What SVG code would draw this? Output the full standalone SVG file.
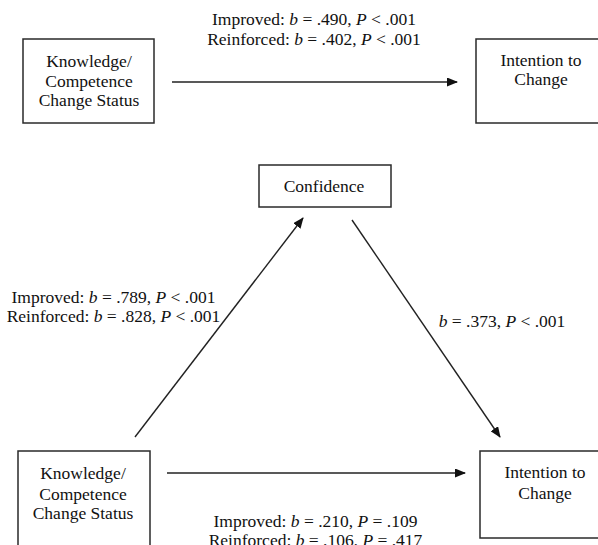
<svg xmlns="http://www.w3.org/2000/svg" width="598" height="545" viewBox="0 0 598 545">
<defs>
<style>
.box{fill:#fff;stroke:#2a2a2a;stroke-width:1.5}
.t{font-family:'Liberation Serif','Times New Roman',serif;font-size:17.5px;fill:#111;text-anchor:middle}
.i{font-style:italic}
.edge{stroke:#222;stroke-width:1.4;fill:none;marker-end:url(#ah)}
</style>
<marker id="ah" markerUnits="userSpaceOnUse" markerWidth="11" markerHeight="9" refX="10" refY="4.5" orient="auto">
<path d="M0,0 L11,4.5 L0,9 z" fill="#111"/>
</marker>
</defs>
<rect width="598" height="545" fill="#fff"/>

<g id="kc-top">
<rect class="box" x="23" y="39" width="131" height="84"/>
<text class="t" x="89" y="67">Knowledge/</text>
<text class="t" x="89" y="87">Competence</text>
<text class="t" x="89" y="106">Change Status</text>
</g>
<g id="ic-top">
<rect class="box" x="476" y="39" width="130" height="84"/>
<text class="t" x="541" y="66">Intention to</text>
<text class="t" x="541" y="85">Change</text>
</g>
<g id="confidence">
<rect class="box" x="259" y="165" width="132" height="42"/>
<text class="t" x="324" y="192">Confidence</text>
</g>
<g id="kc-bottom">
<rect class="box" x="18" y="451" width="132" height="110"/>
<text class="t" x="83" y="479">Knowledge/</text>
<text class="t" x="83" y="500">Competence</text>
<text class="t" x="83" y="519">Change Status</text>
</g>
<g id="ic-bottom">
<rect class="box" x="480" y="451" width="130" height="87"/>
<text class="t" x="545" y="478">Intention to</text>
<text class="t" x="545" y="499">Change</text>
</g>

<g id="connectors">
<line class="edge" x1="172" y1="82" x2="457" y2="82"/>
<line class="edge" x1="135" y1="437" x2="303" y2="218"/>
<line class="edge" x1="352" y1="220" x2="500" y2="437"/>
<line class="edge" x1="167" y1="473" x2="465" y2="473"/>
</g>

<g id="labels">
<text class="t" x="314" y="25">Improved: <tspan class="i">b</tspan> = .490, <tspan class="i">P</tspan> &lt; .001</text>
<text class="t" x="314" y="45">Reinforced: <tspan class="i">b</tspan> = .402, <tspan class="i">P</tspan> &lt; .001</text>
<text class="t" x="113.5" y="303">Improved: <tspan class="i">b</tspan> = .789, <tspan class="i">P</tspan> &lt; .001</text>
<text class="t" x="113.5" y="322">Reinforced: <tspan class="i">b</tspan> = .828, <tspan class="i">P</tspan> &lt; .001</text>
<text class="t" x="502" y="327"><tspan class="i">b</tspan> = .373, <tspan class="i">P</tspan> &lt; .001</text>
<text class="t" x="315.5" y="527">Improved: <tspan class="i">b</tspan> = .210, <tspan class="i">P</tspan> = .109</text>
<text class="t" x="315.5" y="546">Reinforced: <tspan class="i">b</tspan> = .106, <tspan class="i">P</tspan> = .417</text>
</g>
</svg>
